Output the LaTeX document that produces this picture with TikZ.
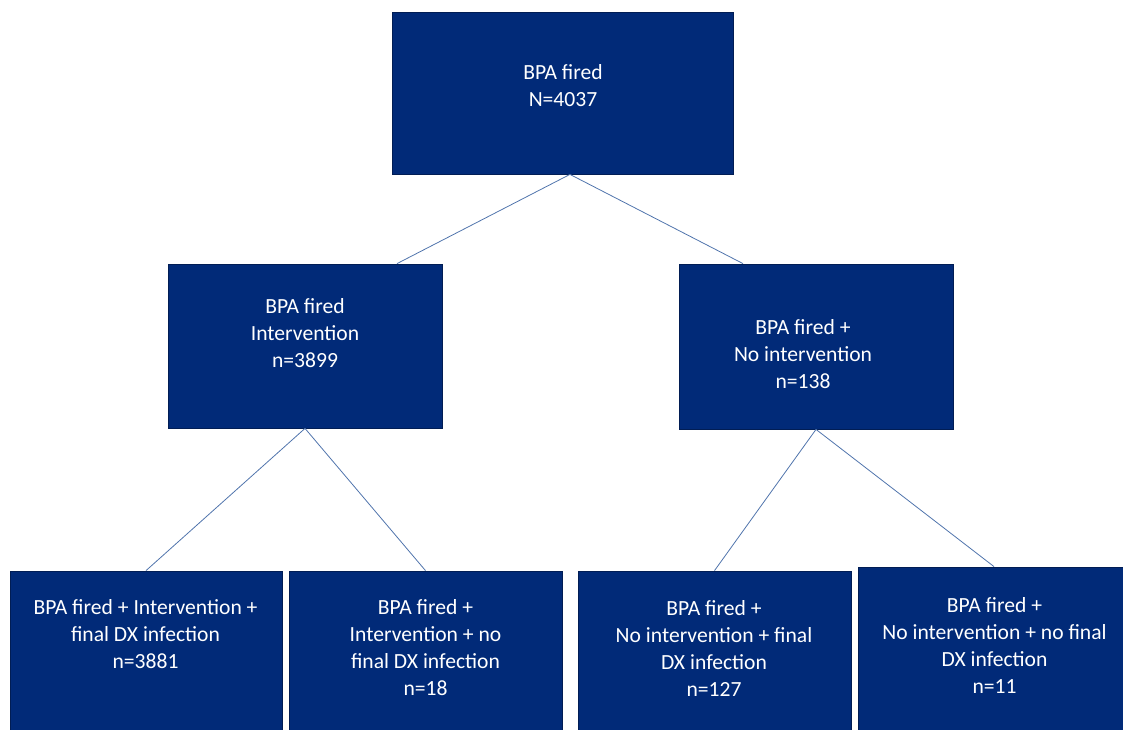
\documentclass[tikz,border=0pt]{standalone}
\usepackage{fontspec}
\setmainfont{Carlito}
\definecolor{boxblue}{RGB}{1,42,120}
\definecolor{linkblue}{RGB}{80,116,172}
\tikzset{
  box/.style={draw=boxblue!70!black, fill=boxblue, line width=0.6pt, inner sep=0pt},
  txt/.style={text=white, align=center, inner sep=0pt, font=\fontsize{16.2}{20.25}\selectfont},
  link/.style={draw=linkblue, line width=0.6pt}
}

\begin{document}
\begin{tikzpicture}[x=0.75pt,y=-0.75pt]
\useasboundingbox (0,0) rectangle (1123,729);

% top level
\node[box, minimum width=255.75pt, minimum height=121.5pt] (top) at (562.5,93) {};
\node[txt] (top-t) at (563,85.5) {BPA fired\\N=4037};

% second level
\node[box, minimum width=205.5pt, minimum height=123pt] (midL) at (305,346) {};
\node[txt] (midL-t) at (305,333) {BPA fired\\Intervention\\n=3899};
\node[box, minimum width=205.5pt, minimum height=123.75pt] (midR) at (816,346.5) {};
\node[txt] (midR-t) at (803,354) {BPA fired +\\No intervention\\n=138};

% bottom level (runs off the page)
\node[box, minimum width=204pt, minimum height=126.75pt] (b1) at (146,655.5) {};
\node[txt] (b1-t) at (145.5,634) {BPA fired + Intervention +\\final DX infection\\n=3881};
\node[box, minimum width=204.75pt, minimum height=126.75pt] (b2) at (425.5,655.5) {};
\node[txt] (b2-t) at (425.5,647.5) {BPA fired +\\Intervention + no\\final DX infection\\n=18};
\node[box, minimum width=204.75pt, minimum height=126.75pt] (b3) at (714.5,655.5) {};
\node[txt] (b3-t) at (714,648.5) {BPA fired +\\No intervention + final\\DX infection\\n=127};
\node[box, minimum width=204pt, minimum height=129.75pt] (b4) at (994,653.5) {};
\node[txt] (b4-t) at (994.5,645.5) {BPA fired +\\No intervention + no final\\DX infection\\n=11};

% links
\draw[link] ([xshift=5.6pt]top.south) -- ([xshift=69pt]midL.north);
\draw[link] ([xshift=5.6pt]top.south) -- ([xshift=-54.75pt]midR.north);
\draw[link] (midL.south) -- (b1.north);
\draw[link] (midL.south) -- (b2.north);
\draw[link] (midR.south) -- (b3.north);
\draw[link] (midR.south) -- (b4.north);
\end{tikzpicture}
\end{document}
